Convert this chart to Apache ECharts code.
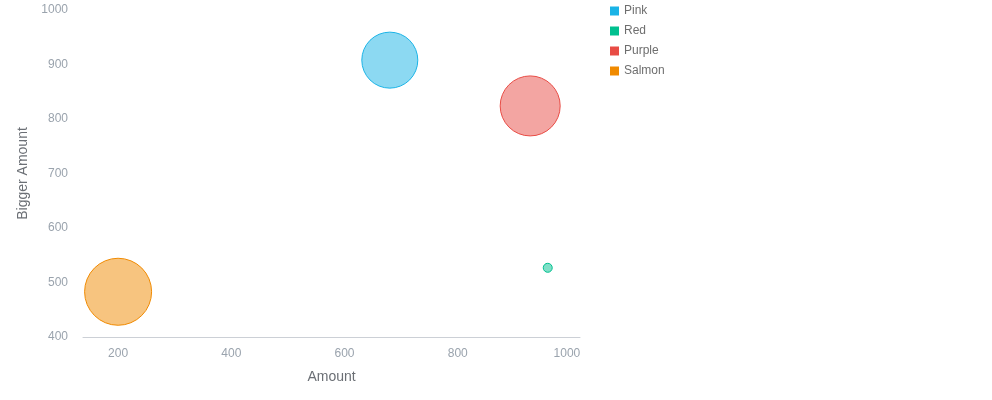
<!DOCTYPE html>
<html><head><meta charset="utf-8">
<script src="https://cdn.jsdelivr.net/npm/echarts@6/dist/echarts.min.js"></script>
<style>html,body{margin:0;padding:0;background:#fff}#c{width:992px;height:400px}</style>
</head><body><div id="c"></div>
<script>
const seriesNames = ['Pink', 'Red', 'Purple', 'Salmon'];
const amounts = [680, 959, 928, 200];
const biggerAmounts = [908, 527, 824, 483];
const bubbleSizes = [56, 9, 60, 67];
const xTicks = [200, 400, 600, 800, 1000];
const yTicks = [400, 500, 600, 700, 800, 900, 1000];
const colors = ['#1ab3e6', '#00c08f', '#e84c45', '#f08a00'];
const fills = ['rgba(26,179,230,0.5)', 'rgba(0,192,143,0.5)', 'rgba(232,76,69,0.5)', 'rgba(240,138,0,0.5)'];
const font = 'Liberation Sans, Arial, sans-serif';

const chart = echarts.init(document.getElementById('c'), null, {renderer: 'canvas'});
chart.setOption({
  animation: false,
  textStyle: {fontFamily: font},
  grid: {left: 83, top: 10, width: 497, height: 327, containLabel: false},
  legend: {
    orient: 'vertical', left: 610, top: 5, padding: 0, itemWidth: 9, itemHeight: 9, itemGap: 8,
    icon: 'rect',
    textStyle: {color: '#6e6e6e', fontSize: 12, fontFamily: font},
    data: seriesNames.map((n, i) => ({name: n, itemStyle: {color: colors[i], borderWidth: 0, opacity: 1}}))
  },
  xAxis: {
    type: 'value', min: 138, max: 1016,
    name: 'Amount', nameLocation: 'middle', nameGap: 33,
    nameTextStyle: {color: '#6b6f75', fontSize: 14, fontFamily: font},
    axisLine: {show: true, lineStyle: {color: '#ccd0d6'}},
    axisTick: {show: false},
    splitLine: {show: false},
    axisLabel: {
      customValues: xTicks, color: '#9aa3ad', fontSize: 12, margin: 11, fontFamily: font,
      formatter: v => v === 1000 ? '{r|1000}' : String(v),
      rich: {r: {padding: [0, 8, 0, 0], color: '#9aa3ad', fontSize: 12, fontFamily: font}}
    }
  },
  yAxis: {
    type: 'value', min: 400, max: 1000, interval: 100,
    name: 'Bigger Amount', nameLocation: 'middle', nameGap: 52, nameRotate: 90,
    nameTextStyle: {color: '#6b6f75', fontSize: 14, fontFamily: font},
    axisLine: {show: false},
    axisTick: {show: false},
    splitLine: {show: false},
    axisLabel: {customValues: yTicks, color: '#9aa3ad', fontSize: 12, margin: 15, fontFamily: font, formatter: v => String(v)}
  },
  series: seriesNames.map((n, i) => ({
    name: n, type: 'scatter',
    symbolSize: v => v[2],
    itemStyle: {color: fills[i], borderColor: colors[i], borderWidth: 1, opacity: 1},
    emphasis: {disabled: true},
    data: [[amounts[i], biggerAmounts[i], bubbleSizes[i]]]
  }))
});
</script></body></html>
